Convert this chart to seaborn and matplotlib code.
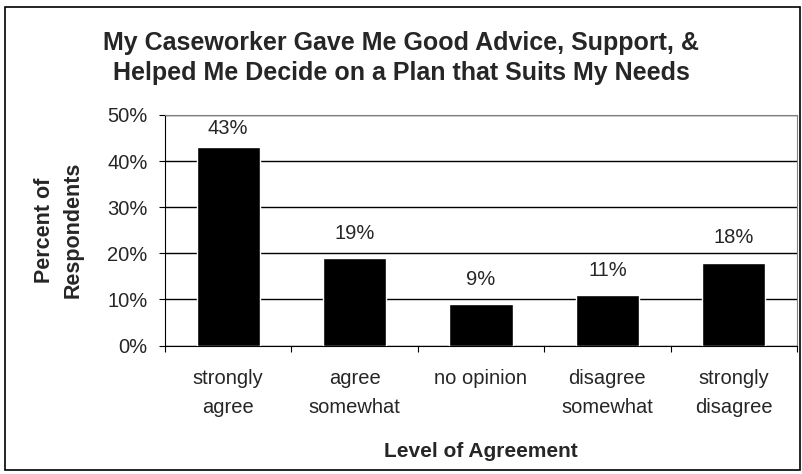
import matplotlib
matplotlib.use("Agg")
import matplotlib.pyplot as plt
import matplotlib.patches as patches
from matplotlib.ticker import PercentFormatter, FixedLocator
import seaborn as sns

sns.set_style("white")
plt.rcParams['font.family'] = ['Liberation Sans', 'DejaVu Sans']

categories = ["strongly\nagree", "agree\nsomewhat", "no opinion",
              "disagree\nsomewhat", "strongly\ndisagree"]
percents = [0.43, 0.19, 0.09, 0.11, 0.18]
labels = ["43%", "19%", "9%", "11%", "18%"]

fig = plt.figure(figsize=(8.03, 4.74), dpi=100)
ax = fig.add_axes([165 / 803, 1 - 345.5 / 474, 632 / 803, 230.5 / 474])

sns.barplot(ax=ax, x=categories, y=percents, color="black",
            width=0.5, saturation=1, zorder=3)

ax.set_ylim(0, 0.5)
ax.set_xlim(-0.5, 4.5)
ax.yaxis.set_major_locator(FixedLocator([0, 0.1, 0.2, 0.3, 0.4, 0.5]))
ax.yaxis.set_major_formatter(PercentFormatter(1.0, decimals=0))
ax.grid(axis="y", color="black", lw=1, zorder=0)
ax.grid(axis="x", visible=False)

# ticks at category boundaries, labels at centers
ax.set_xticks([-0.5, 0.5, 1.5, 2.5, 3.5, 4.5])
ax.set_xticklabels([])
ax.set_xticks(range(len(categories)), minor=True)
ax.set_xticklabels(categories, minor=True, fontsize=14.5, linespacing=1.65)
ax.tick_params(axis="x", which="major", direction="out", length=4.5,
               color="black", bottom=True)
ax.tick_params(axis="x", which="minor", length=0, pad=17)
ax.tick_params(axis="y", direction="out", length=4.5, color="black",
               left=True, labelsize=14.5, pad=8)

for side in ["left", "bottom"]:
    ax.spines[side].set_color("black")
for side in ["top", "right"]:
    ax.spines[side].set_color("#808080")

ax.bar_label(ax.containers[0], labels=labels, padding=11, fontsize=14.5)
# top label sits a little lower in the original
ax.texts[0].set_position((0, 6.5))

ax.set_ylabel("Percent of\nRespondents", fontsize=15.5, fontweight="bold",
              labelpad=17, linespacing=1.45)
ax.set_xlabel("Level of Agreement", fontsize=15, fontweight="bold",
              labelpad=18)

fig.suptitle("My Caseworker Gave Me Good Advice, Support, &\n"
             "Helped Me Decide on a Plan that Suits My Needs",
             fontsize=18, fontweight="bold", y=0.935, linespacing=1.3)

fig.patches.append(patches.Rectangle((5 / 803, 4 / 474), 795 / 803, 463 / 474,
                                     transform=fig.transFigure, fill=False,
                                     edgecolor="black", lw=1.2))

fig.savefig("out.png", dpi=100)
